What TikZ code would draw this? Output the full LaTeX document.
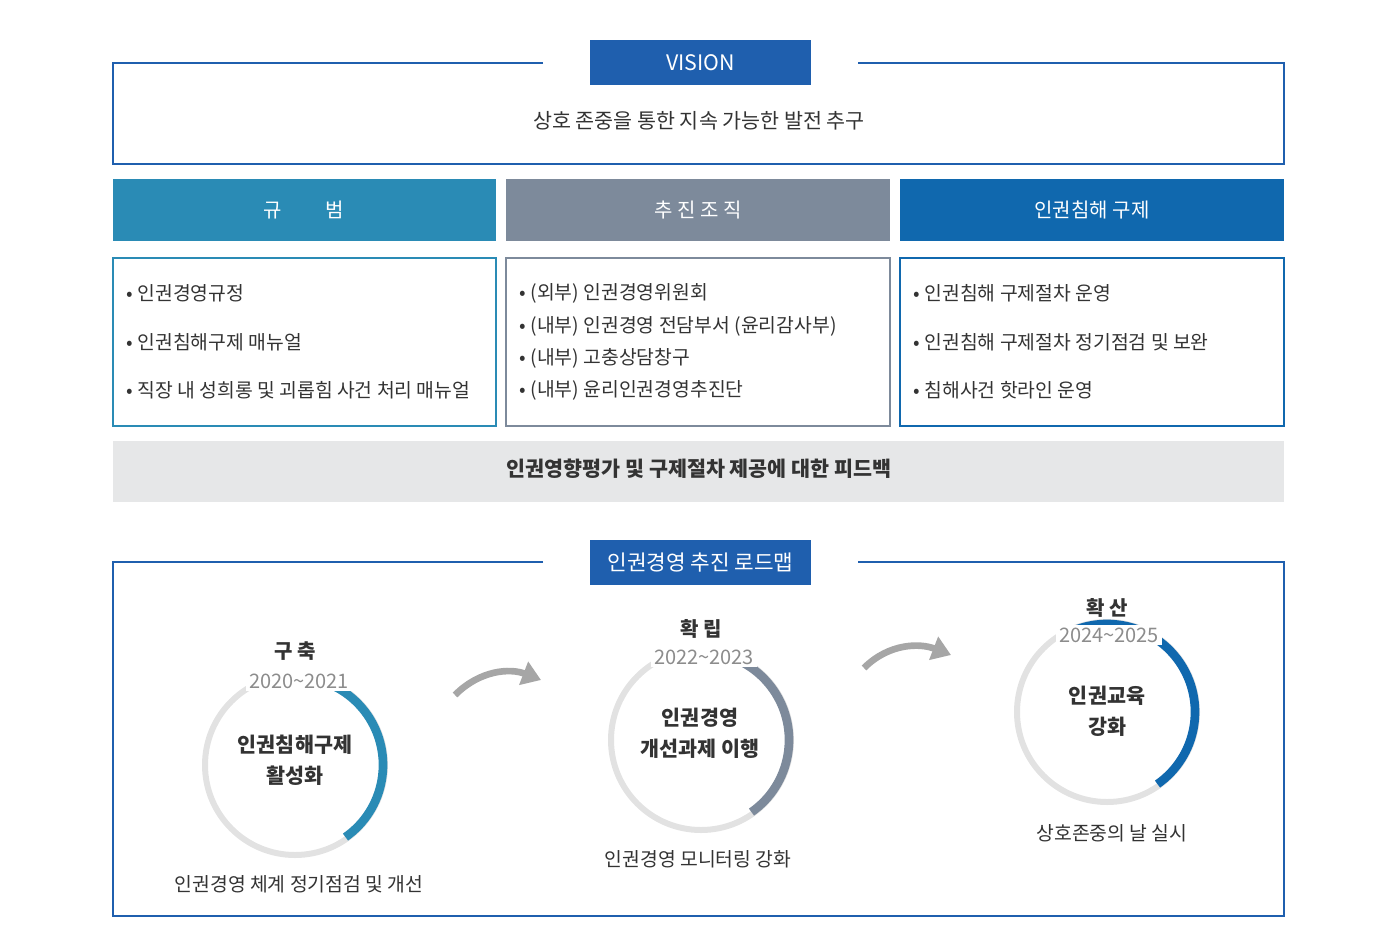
\documentclass[tikz,border=0pt]{standalone}
\usepackage{fontspec}
\setmainfont{Noto Sans CJK KR}
\usetikzlibrary{arrows.meta}
\definecolor{vblue}{HTML}{1F5FAE}
\definecolor{cteal}{HTML}{2A8BB5}
\definecolor{cgray}{HTML}{7D8A9B}
\definecolor{cblue}{HTML}{1068AE}
\definecolor{band}{HTML}{E6E7E8}
\definecolor{ring}{HTML}{E2E2E2}
\definecolor{txt}{HTML}{333333}
\tikzset{
 body/.style={text=txt,font=\fontsize{14.5}{18}\selectfont,anchor=west},
 lbl/.style={fill=vblue,text=white,font=\fontsize{16}{18}\selectfont},
 ctitle/.style={text=txt,font=\bfseries\fontsize{15}{18}\selectfont},
 year/.style={fill=white,inner sep=2pt,text=gray!90,font=\fontsize{15}{18}\selectfont},
 cin/.style={text=txt,align=center,font=\bfseries\fontsize{15.5}{23}\selectfont},
 captext/.style={text=txt,font=\fontsize{14.5}{18}\selectfont}
}
\begin{document}
\begin{tikzpicture}[x=0.75pt,y=-0.75pt]
\useasboundingbox (0,0) rectangle (1399,946);
% vision
\draw[vblue,line width=1.5pt] (543,63) -- (113,63) -- (113,164) -- (1284,164) -- (1284,63) -- (858,63);
\node[lbl,minimum width=221*0.75pt,minimum height=45*0.75pt] (vis) at (700.5,62.5) {VISION};
\node[text=txt,font=\fontsize{15.5}{18}\selectfont] (vt) at (699,121) {상호 존중을 통한 지속 가능한 발전 추구};
% headers
\fill[cteal] (113,179) rectangle (496,241);
\fill[cgray] (506,179) rectangle (890,241);
\fill[cblue] (900,179) rectangle (1284,241);
\node[text=white,font=\fontsize{15}{18}\selectfont] (h1) at (304,210) {규\hspace{2.2em}범};
\node[text=white,font=\fontsize{15}{18}\selectfont] (h2) at (698,210) {추 진 조 직};
\node[text=white,font=\fontsize{15}{18}\selectfont] (h3) at (1092,210) {인권침해 구제};
\draw[cteal,line width=0.9pt] (113,258) rectangle (496,426);
\draw[cgray,line width=0.9pt] (506,258) rectangle (890,426);
\draw[cblue,line width=0.9pt] (900,258) rectangle (1284,426);
\node[body] (a1) at (122,293) {• 인권경영규정};
\node[body] (a2) at (122,342) {• 인권침해구제 매뉴얼};
\node[body] (a3) at (122,390) {• 직장 내 성희롱 및 괴롭힘 사건 처리 매뉴얼};
\node[body] (b1) at (515,293) {• (외부) 인권경영위원회};
\node[body] (b2) at (515,326) {• (내부) 인권경영 전담부서 (윤리감사부)};
\node[body] (b3) at (515,358) {• (내부) 고충상담창구};
\node[body] (b4) at (515,390) {• (내부) 윤리인권경영추진단};
\node[body] (c1) at (909,293) {• 인권침해 구제절차 운영};
\node[body] (c2) at (909,342) {• 인권침해 구제절차 정기점검 및 보완};
\node[body] (c3) at (909,390) {• 침해사건 핫라인 운영};
\fill[band] (113,441) rectangle (1284,502);
\node[text=txt,font=\bfseries\fontsize{15.5}{18}\selectfont] (fb) at (699,469) {인권영향평가 및 구제절차 제공에 대한 피드백};
% roadmap
\draw[vblue,line width=1.5pt] (543,562) -- (113,562) -- (113,916) -- (1284,916) -- (1284,562) -- (858,562);
\node[lbl,minimum width=221*0.75pt,minimum height=45*0.75pt] (rm) at (700.5,562.5) {인권경영 추진 로드맵};
% circles
\foreach \cx/\cy/\col in {295/765/cteal,701/740/cgray,1107/712/cblue}{
 \draw[ring,line width=4.5pt] (\cx,\cy) circle[radius=90];
 \draw[\col,line width=6.5pt] (\cx,\cy) ++(55:88) arc[start angle=55,end angle=-112,radius=88];
}
\node[ctitle] (t1) at (295,651) {구 축};
\node[year] (y1) at (299,681) {2020\textasciitilde 2021};
\node[cin] (i1) at (295,760) {인권침해구제\\활성화};
\node[captext] (p1) at (299,884) {인권경영 체계 정기점검 및 개선};
\node[ctitle] (t2) at (701,629) {확 립};
\node[year] (y2) at (704,657) {2022\textasciitilde 2023};
\node[cin] (i2) at (700,733) {인권경영\\개선과제 이행};
\node[captext] (p2) at (698,859) {인권경영 모니터링 강화};
\node[ctitle] (t3) at (1107,608) {확 산};
\node[year] (y3) at (1109,635) {2024\textasciitilde 2025};
\node[cin] (i3) at (1107,711) {인권교육\\강화};
\node[captext] (p3) at (1112,833) {상호존중의 날 실시};
% arrows
\coordinate (s1) at (455,695); \coordinate (e1) at (541,680);
\coordinate (s2) at (864,668); \coordinate (e2) at (951,655);
\draw[gray!70,line width=5pt,-{Triangle[length=14pt,width=18pt]}] (s1) .. controls (480,670) and (510,668) .. (e1);
\draw[gray!70,line width=5pt,-{Triangle[length=14pt,width=18pt]}] (s2) .. controls (889,643) and (920,643) .. (e2);
\end{tikzpicture}
\end{document}
